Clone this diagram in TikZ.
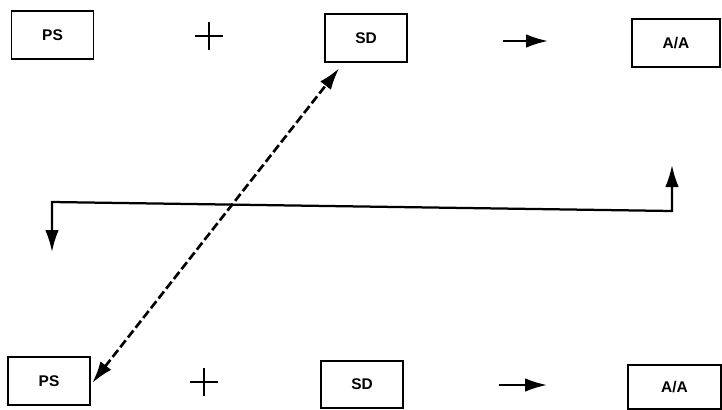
\documentclass[tikz,border=0pt]{standalone}
\usepackage{fontspec}
\setmainfont{Liberation Sans}
\usetikzlibrary{arrows.meta}
\newcommand\lbl{\fontsize{11}{13}\selectfont\bfseries}
\newcommand\hd{Latex[length=5.5mm,width=3.4mm]}
\tikzset{
  blk/.style={draw, line width=1.4pt, minimum width=2.05cm, minimum height=1.22cm, font=\lbl},
  plussign/.style={minimum size=0.7cm, inner sep=0pt,
    path picture={\draw[line width=0.9pt] (path picture bounding box.north)--(path picture bounding box.south)
      (path picture bounding box.west)--(path picture bounding box.east);}},
  tip/.style={-{\hd}, line width=1.6pt},
  twotip/.style={{\hd}-{\hd}, line width=1.6pt}
}

\begin{document}
\begin{tikzpicture}[x=0.025cm, y=-0.025cm]
\useasboundingbox (0,0) rectangle (722,409);
% top row
\node[blk] (ps1) at (52.5,35) {PS};
\node[plussign] (pl1) at (209,36) {};
\node[blk] (sd1) at (366,38) {SD};
\node[blk, minimum width=2.18cm] (aa1) at (676,43) {A/A};
\coordinate (ar1a) at (503,41); \coordinate (ar1b) at (548,41);
\draw[tip] (ar1a) -- (ar1b);
% bottom row
\node[blk] (ps2) at (49,381) {PS};
\node[plussign] (pl2) at (204,382) {};
\node[blk, minimum height=1.18cm] (sd2) at (362,384.5) {SD};
\node[blk, minimum width=2.32cm, minimum height=1.1cm] (aa2) at (674.5,387) {A/A};
\coordinate (ar2a) at (499,385); \coordinate (ar2b) at (547,385);
\draw[tip] (ar2a) -- (ar2b);
% dashed link
\draw[twotip, line width=1.9pt, dash pattern=on 2.2mm off 0.9mm]
  ([xshift=0.03cm,yshift=-0.05cm]ps2.east) -- ([xshift=0.38cm,yshift=-0.12cm]sd1.south west);
% feedback
\coordinate (fbA) at (52,252); \coordinate (fbB) at (52,202);
\coordinate (fbC) at (672,211); \coordinate (fbD) at (672,165);
\draw[twotip] (fbA) -- (fbB) -- (fbC) -- (fbD);
\end{tikzpicture}
\end{document}
